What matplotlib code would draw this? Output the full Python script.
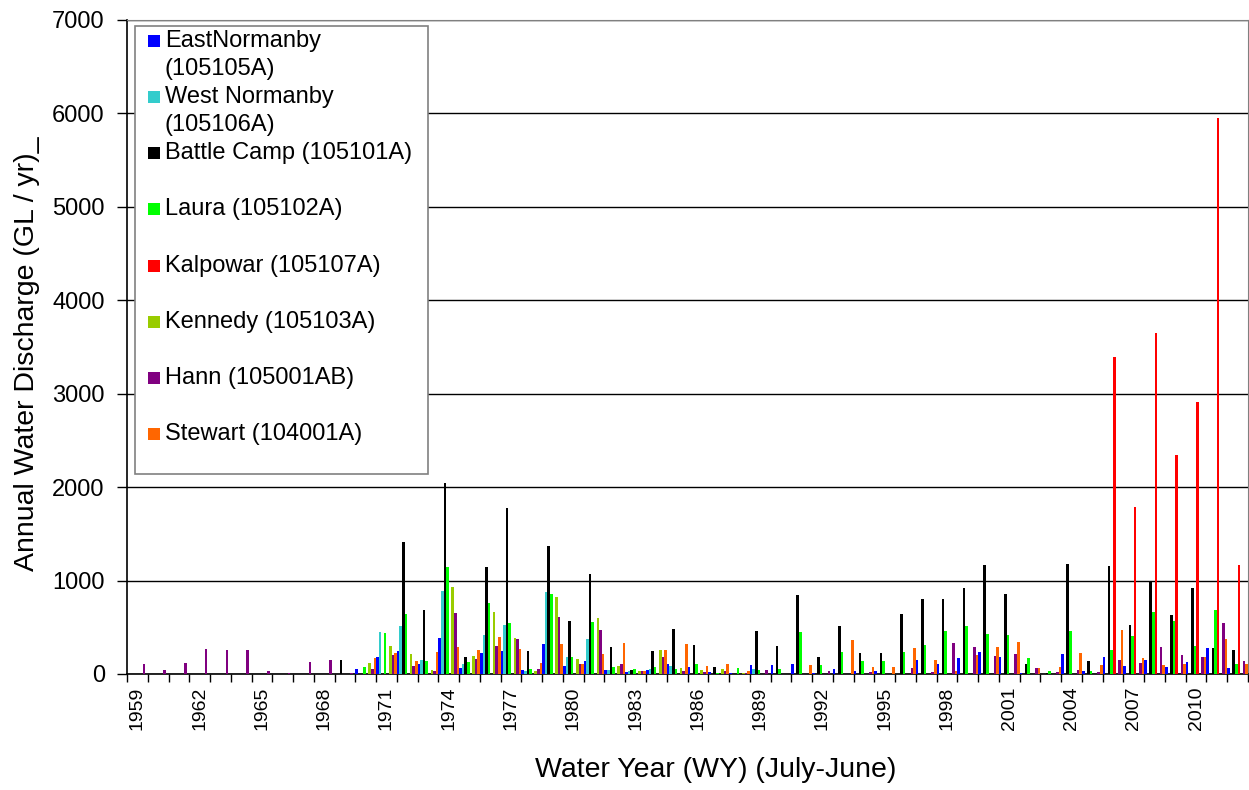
import numpy as np
import matplotlib
matplotlib.use('Agg')
import matplotlib.pyplot as plt
from matplotlib.patches import Rectangle

plt.rcParams['font.family'] = ['Liberation Sans', 'DejaVu Sans']

# Water years 1959 - 2012
years = list(range(1959, 2013))

def series(start, vals):
    # pad a run of yearly values starting at `start` to the full year range
    out = [0] * len(years)
    for k, v in enumerate(vals):
        out[start - 1959 + k] = v
    return out

east_normanby = series(1970, [57, 182, 246, 110, 382, 68, 228, 246, 46, 321,
                              86, 139, 43, 21, 43, 110, 75, 18, 11, 96,
                              100, 110, 14, 50, 36, 36, 0, 150, 107, 168,
                              235, 178, 7, 0, 210, 34, 182, 89, 150, 75,
                              128, 282, 64])
west_normanby = series(1971, [446, 514, 146, 888, 107, 417, 524, 29, 877, 182,
                              371, 43, 32, 54, 89, 0, 0, 0, 54])
battle_camp = series(1969, [150, 0, 0, 1412, 688, 2047, 182, 1141, 1773, 246,
                            1370, 567, 1074, 285, 39, 246, 482, 310, 78, 0,
                            457, 300, 842, 182, 514, 228, 228, 642, 802, 799,
                            920, 1163, 856, 110, 14, 1174, 141, 1154, 521, 988,
                            635, 920, 282, 253])
laura = series(1970, [71, 440, 642, 143, 1145, 128, 756, 542, 50, 856,
                      178, 560, 75, 50, 71, 54, 110, 14, 68, 43,
                      54, 449, 93, 235, 143, 143, 235, 310, 457, 517,
                      432, 417, 175, 29, 460, 30, 255, 410, 667, 567,
                      303, 685, 111])
kalpowar = series(2006, [3389, 1787, 3645, 2347, 2911, 5950, 1166])
kennedy = series(1970, [118, 300, 210, 43, 927, 193, 660, 385, 29, 820,
                        160, 603, 86, 36, 257, 61, 39, 50, 14])
hann = series(1959, [110, 40, 120, 270, 260, 260, 36, 11, 130, 150,
                     11, 57, 203, 89, 36, 653, 157, 303, 375, 54,
                     610, 107, 471, 107, 32, 182, 32, 21, 32, 11,
                     39, 0, 0, 32, 0, 20, 0, 61, 21, 332,
                     292, 189, 214, 64, 21, 43, 25, 153, 121, 289,
                     203, 182, 549, 139])
stewart = series(1970, [175, 225, 136, 232, 285, 260, 396, 268, 114, 325,
                        103, 218, 332, 29, 260, 325, 86, 107, 36, 0,
                        0, 96, 5, 364, 75, 75, 282, 146, 32, 203,
                        285, 342, 64, 75, 228, 96, 474, 171, 96, 111,
                        182, 375, 110])

labels = ['EastNormanby\n(105105A)', 'West Normanby\n(105106A)', 'Battle Camp (105101A)',
          'Laura (105102A)', 'Kalpowar (105107A)', 'Kennedy (105103A)',
          'Hann (105001AB)', 'Stewart (104001A)']
colors = ['#0000FF', '#33CCCC', '#000000', '#00FF00', '#FF0000', '#99CC00',
          '#800080', '#FF6600']
data = [east_normanby, west_normanby, battle_camp, laura, kalpowar, kennedy,
        hann, stewart]

W, H = 1249, 790
fig = plt.figure(figsize=(W / 100, H / 100), dpi=100)
ax = fig.add_axes([127 / W, 1 - 674 / H, 1121 / W, 654 / H])

x = np.arange(len(years))
bw = 1 / 8
for j, (vals, c) in enumerate(zip(data, colors)):
    ax.bar(x + (j - 3.5) * bw, vals, width=bw, color=c, linewidth=0, zorder=3)

ax.set_xlim(-0.5, len(years) - 0.5)
ax.set_ylim(0, 7000)
ax.set_yticks(range(0, 7001, 1000))
ax.yaxis.grid(True, color='black', linewidth=1, zorder=1)
ax.set_axisbelow(True)
ax.tick_params(axis='y', labelsize=17, length=7, width=1, pad=9)

major = [i for i, y in enumerate(years) if (y - 1959) % 3 == 0]
ax.set_xticks(major)
ax.set_xticklabels([str(years[i]) for i in major], rotation=90, fontsize=14)
ax.set_xticks(np.arange(-0.5, len(years), 1), minor=True)
ax.tick_params(axis='x', which='major', length=0, pad=9)
ax.tick_params(axis='x', which='minor', length=6, width=1)

for s in ['top', 'right']:
    ax.spines[s].set_color('#808080')
ax.spines['left'].set_linewidth(1.2)
ax.spines['bottom'].set_linewidth(1.2)

ax.set_ylabel('Annual Water Discharge (GL / yr)_', fontsize=20.5)
ax.yaxis.set_label_coords(-0.078, 0.49)
ax.set_xlabel('Water Year (WY) (July-June)', fontsize=20.5)
ax.xaxis.set_label_coords(0.525, -0.127)

# legend box drawn in pixel coordinates of the figure
def fx(px):
    return px / W

def fy(py):
    return 1 - py / H

fig.patches.append(Rectangle((fx(135), fy(474)), fx(428) - fx(135), fy(26) - fy(474),
                             transform=fig.transFigure, facecolor='white',
                             edgecolor='#808080', linewidth=1.2, zorder=5))
rows = [41, 97, 153, 209, 266, 322, 378, 434]
for lab, c, ry in zip(labels, colors, rows):
    fig.patches.append(Rectangle((fx(148), fy(ry + 6)), fx(12), 12 / H,
                                 transform=fig.transFigure, facecolor=c,
                                 edgecolor='none', zorder=6))
    fig.text(fx(165), fy(ry - 11), lab, fontsize=17, va='top', ha='left',
             linespacing=1.35, zorder=6, transform=fig.transFigure)

fig.savefig('out.png', dpi=100)
